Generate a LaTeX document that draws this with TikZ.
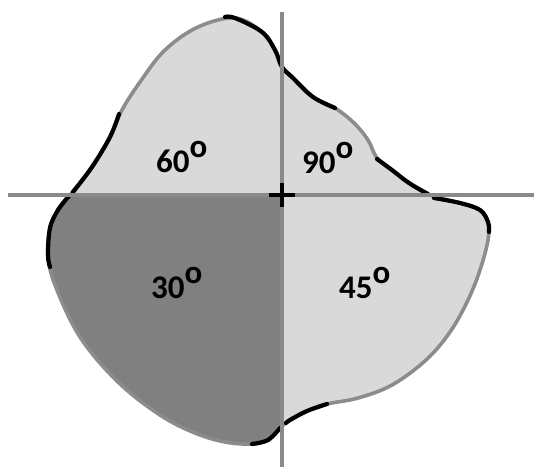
\documentclass[tikz,border=0pt]{standalone}
\usepackage{fontspec}
\usepackage{xcolor}
\usepackage{tikz}
\newfontfamily\quadfont{Carlito}
\definecolor{quadLight}{HTML}{D9D9D9}
\definecolor{quadDark}{HTML}{808080}
\definecolor{axisGrey}{HTML}{8A8A8A}
\definecolor{rimGrey}{HTML}{8C8C8C}
\tikzset{
  axisline/.style={draw=axisGrey, line width=4pt},
  rimline/.style={draw=rimGrey, line width=3.6pt, line join=round},
  rimblack/.style={draw=black, line width=4.2pt, line cap=round},
  crossmark/.style={draw=black, line width=4.5pt},
  quadlabel/.style={font=\quadfont\bfseries\fontsize{33}{38}\selectfont, anchor=base west, inner sep=0pt},
}
\newcommand{\dego}{\raisebox{0.43em}{o}}

\begin{document}
\begin{tikzpicture}[x=1pt,y=-1pt]
  \useasboundingbox (0,0) rectangle (534,467);
  \coordinate (ctr) at (282,195);

  % outline of the blob
  \path[save path=\blobpath] plot[smooth cycle, tension=0.6] coordinates {
    (235,18) (262,32) (275,50) (282,67) (293,78) (313,97) (335,108) (354,123)
    (368,140) (377,158) (392,170) (409,183) (430,195) (460,203) (480,210)
    (488,222) (488,240) (480,270) (468,300) (450,332) (426,360) (392,385)
    (358,398) (327,404) (307,411) (290,420) (280,428) (268,440) (252,444)
    (225,442) (195,433) (160,415) (118,382) (80,337) (55,285) (48,255)
    (50,228) (58,210) (70,195) (92,167) (110,137) (122,110) (140,82)
    (165,50) (198,27)};

  \fill[quadLight, use path=\blobpath];
  \begin{scope}
    \clip (0,195) rectangle (282,467);
    \fill[quadDark, use path=\blobpath];
  \end{scope}
  \path[rimline, use path=\blobpath];

  % black parts of the rim
  \draw[rimblack] plot[smooth, tension=0.6] coordinates {(225,17) (235,18) (262,32) (275,50) (282,67) (293,78) (313,97) (335,108)};
  \draw[rimblack] plot[smooth, tension=0.6] coordinates {(377,159) (392,170) (409,183) (428,194)};
  \draw[rimblack] plot[smooth, tension=0.6] coordinates {(434,198) (460,203) (480,210) (488,222) (489,232)};
  \draw[rimblack] plot[smooth, tension=0.6] coordinates {(327,404) (307,411) (290,420) (286,423)};
  \draw[rimblack] plot[smooth, tension=0.6] coordinates {(280,428) (268,440) (252,444)};
  \draw[rimblack] plot[smooth, tension=0.6] coordinates {(50,267) (48,255) (50,228) (58,210) (69,196)};
  \draw[rimblack] plot[smooth, tension=0.6] coordinates {(73,192) (92,167) (110,137) (119,114)};

  % axes and centre mark
  \draw[axisline] (8,195) -- (534,195);
  \draw[axisline] (282,12) -- (282,467);
  \draw[crossmark] ([xshift=-13pt]ctr) -- ([xshift=13pt]ctr);
  \draw[crossmark] ([yshift=12pt]ctr) -- ([yshift=-12pt]ctr);

  \node[quadlabel] (lab60) at (156,172) {60\dego};
  \node[quadlabel] (lab90) at (302,173) {90\dego};
  \node[quadlabel] (lab30) at (151,298) {30\dego};
  \node[quadlabel] (lab45) at (339,298) {45\dego};
\end{tikzpicture}
\end{document}
